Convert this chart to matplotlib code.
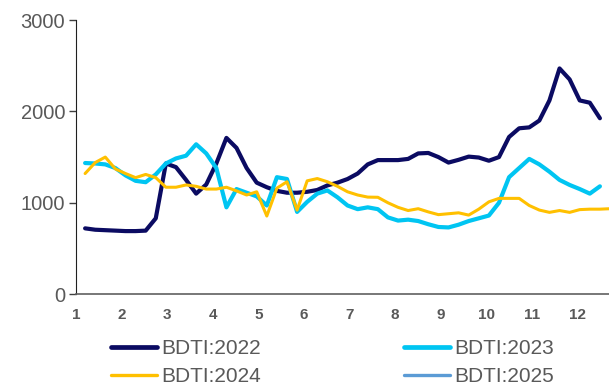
import matplotlib
matplotlib.use("Agg")
import matplotlib.pyplot as plt
from matplotlib.lines import Line2D

weeks_2022 = list(range(1, 53))
weeks_2024 = list(range(1, 54))

bdti_2022 = [720, 705, 700, 695, 690, 690, 695, 830, 1430, 1390, 1250, 1100, 1200,
             1430, 1710, 1600, 1380, 1220, 1170, 1130, 1110, 1110, 1120, 1140, 1190,
             1220, 1260, 1320, 1420, 1467, 1467, 1467, 1480, 1540, 1545, 1500, 1440,
             1470, 1505, 1495, 1460, 1500, 1720, 1815, 1825, 1900, 2120, 2470, 2350,
             2120, 2095, 1925]
bdti_2023 = [1435, 1430, 1420, 1380, 1300, 1240, 1225, 1310, 1430, 1485, 1515, 1640,
             1540, 1380, 950, 1150, 1110, 1070, 970, 1280, 1260, 900, 1010, 1100, 1135,
             1060, 970, 930, 950, 930, 840, 805, 815, 800, 765, 735, 730, 760, 800, 830,
             860, 1000, 1280, 1380, 1480, 1420, 1340, 1250, 1195, 1150, 1100, 1180]
bdti_2024 = [1320, 1440, 1500, 1370, 1320, 1275, 1310, 1275, 1170, 1170, 1195, 1180,
             1150, 1150, 1170, 1130, 1085, 1120, 855, 1160, 1230, 920, 1240, 1265, 1230,
             1180, 1120, 1085, 1062, 1060, 1000, 950, 915, 935, 900, 870, 880, 890, 865,
             930, 1010, 1048, 1048, 1048, 970, 920, 895, 915, 895, 925, 930, 930, 935]

month_labels = ["1", "2", "3", "4", "5", "6", "7", "8", "9", "10", "11", "12"]
month_pos = [0.11, 4.62, 9.14, 13.65, 18.17, 22.69, 27.2, 31.72, 36.23, 40.75, 45.26, 49.78]
y_ticks = [0, 1000, 2000, 3000]

c22, c23, c24, c25 = "#0B0B62", "#00C5F2", "#FFC000", "#5B9BD5"
gray = "#595959"

plt.rcParams['font.family'] = ['Liberation Sans', 'DejaVu Sans']

fig = plt.figure(figsize=(6.09, 3.85), dpi=100)
ax = fig.add_axes([0.125, 0.236, 0.875, 0.712])

ax.plot(weeks_2022, bdti_2022, color=c22, lw=3.0, solid_capstyle='round', solid_joinstyle='round')
ax.plot(weeks_2022, bdti_2023, color=c23, lw=3.0, solid_capstyle='round', solid_joinstyle='round')
ax.plot(weeks_2024, bdti_2024, color=c24, lw=2.2, solid_capstyle='round', solid_joinstyle='round')

ax.set_xlim(0.11, 52.9)
ax.set_ylim(0, 3000)
ax.set_yticks(y_ticks)
ax.set_yticklabels([str(v) for v in y_ticks], fontsize=14.5, color=gray)
ax.set_xticks(month_pos)
ax.set_xticklabels(month_labels, fontsize=11, color=gray, fontweight='bold')
ax.tick_params(axis='x', length=0, pad=10)
ax.tick_params(axis='y', length=5, width=1, color='#404040', pad=3)
for s in ['top', 'right']:
    ax.spines[s].set_visible(False)
ax.spines['left'].set_color('#202020')
ax.spines['bottom'].set_color('#606060')
ax.spines['bottom'].set_linewidth(1.2)

handles = [Line2D([], [], color=c22, lw=3.4, solid_capstyle='round'),
           Line2D([], [], color=c24, lw=2.4, solid_capstyle='round'),
           Line2D([], [], color=c23, lw=3.4, solid_capstyle='round'),
           Line2D([], [], color=c25, lw=2.4, solid_capstyle='round')]
labels = ["BDTI:2022", "BDTI:2024", "BDTI:2023", "BDTI:2025"]
leg = fig.legend(handles, labels, loc='upper left', bbox_to_anchor=(0.182, 0.119),
                 ncol=2, frameon=False, fontsize=15, handlelength=2.2, handletextpad=0.2,
                 columnspacing=6.9, labelspacing=0.44, borderpad=0, borderaxespad=0)
for t in leg.get_texts():
    t.set_color(gray)

fig.savefig("out.png", dpi=100)
